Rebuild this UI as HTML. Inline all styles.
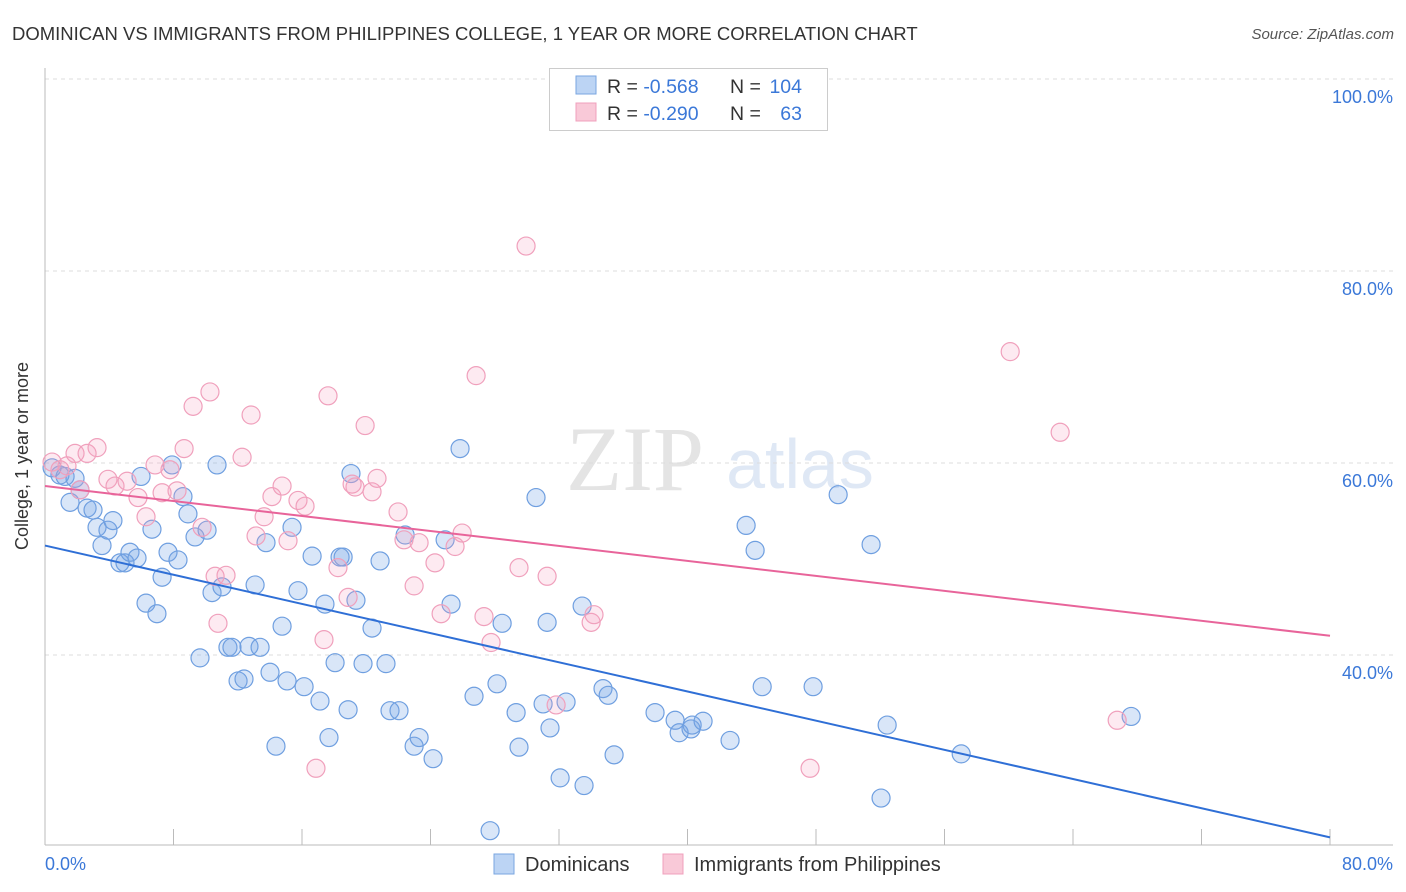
<!DOCTYPE html>
<html><head><meta charset="utf-8"><style>
body{margin:0;background:#fff;font-family:"Liberation Sans",sans-serif;}
svg{display:block}
</style></head><body>
<svg id="chart" width="1406" height="892" xmlns="http://www.w3.org/2000/svg">
<text x="12" y="40" font-size="18.5" fill="#333">DOMINICAN VS IMMIGRANTS FROM PHILIPPINES COLLEGE, 1 YEAR OR MORE CORRELATION CHART</text>
<text x="1394" y="39" font-size="15" fill="#555" font-style="italic" text-anchor="end">Source: ZipAtlas.com</text>
<g>
<text x="635" y="490" font-size="92" fill="#e4e4e4" font-family="Liberation Serif,serif" text-anchor="middle">ZIP</text>
<text x="800" y="488" font-size="70" fill="#dfe8f5" text-anchor="middle">atlas</text>
</g>
<g id="grid"></g>
<g id="axes"></g>
<g id="points"></g>
<g id="lines"></g>
<text x="28" y="456" font-size="18" fill="#333" text-anchor="middle" transform="rotate(-90 28 456)">College, 1 year or more</text>
<g>
<rect x="549.5" y="68.5" width="278" height="62" fill="#fff" stroke="#ccc"/>
<rect x="576" y="76" width="20" height="18" fill="#bcd4f4" stroke="#7aa6e0"/>
<rect x="576" y="103" width="20" height="18" fill="#f9c9d8" stroke="#f0a0bc"/>
<text x="607" y="93" font-size="19.5" fill="#333">R = <tspan fill="#3b78d8">-0.568</tspan></text>
<text x="730" y="93" font-size="19.5" fill="#333">N =</text>
<text x="802" y="93" font-size="19.5" fill="#3b78d8" text-anchor="end">104</text>
<text x="607" y="120" font-size="19.5" fill="#333">R = <tspan fill="#3b78d8">-0.290</tspan></text>
<text x="730" y="120" font-size="19.5" fill="#333">N =</text>
<text x="802" y="120" font-size="19.5" fill="#3b78d8" text-anchor="end">63</text>
</g>
<g>
<rect x="494" y="854" width="20" height="20" fill="#bcd4f4" stroke="#7aa6e0"/>
<text x="525" y="871" font-size="20" fill="#333">Dominicans</text>
<rect x="663" y="854" width="20" height="20" fill="#f9c9d8" stroke="#f0a0bc"/>
<text x="694" y="871" font-size="20" fill="#333">Immigrants from Philippines</text>
</g>
</svg>
<script>
const blueX=[0.44,0.93,1.25,1.87,1.56,2.18,2.62,2.99,3.55,3.24,3.92,4.23,4.67,4.98,5.29,5.73,5.98,6.29,6.66,6.97,7.29,7.66,7.91,8.28,8.59,8.90,9.34,9.65,10.09,10.40,10.71,11.02,11.39,11.64,12.02,12.39,12.70,13.08,13.39,13.76,14.01,14.38,14.76,15.07,15.38,15.75,16.13,16.63,17.12,17.43,17.68,18.06,18.37,18.56,18.87,19.05,19.36,19.80,20.36,20.86,21.23,21.48,22.04,22.42,22.98,23.29,24.16,24.91,25.28,25.84,26.71,27.71,28.14,28.46,29.33,29.51,30.57,31.01,31.26,31.44,32.07,32.44,33.44,33.56,34.74,35.06,35.43,37.98,39.23,39.48,40.22,40.29,40.97,42.65,43.65,44.21,44.65,47.82,49.38,51.43,52.05,52.43,57.04,67.62];
const blueY=[59.5,58.75,58.6,58.4,55.9,57.2,55.3,55.1,51.4,53.3,53.0,54.0,49.6,49.6,50.7,50.1,58.6,45.4,53.1,44.3,48.1,50.7,59.8,49.9,56.5,54.7,52.3,39.7,53.0,46.5,59.8,47.1,40.8,40.8,37.3,37.5,40.9,47.3,40.8,51.7,38.2,30.5,43.0,37.3,53.3,46.7,36.7,50.3,35.2,45.3,31.4,39.2,50.2,50.2,34.3,58.9,45.7,39.1,42.8,49.8,39.1,34.2,34.2,52.5,30.5,31.4,29.2,52.0,45.3,61.5,35.7,21.7,37.0,43.3,34.0,30.4,56.4,34.9,43.4,32.4,27.2,35.1,45.1,26.4,36.5,35.8,29.6,34.0,33.2,31.9,32.3,32.7,33.1,31.1,53.5,50.9,36.7,36.7,56.7,51.5,25.1,32.7,29.7,33.6];
const pinkX=[0.44,0.93,1.37,1.87,2.18,2.62,3.24,3.92,4.36,5.11,5.79,6.29,6.85,7.78,7.29,8.22,8.66,9.22,9.78,10.27,10.59,10.77,11.27,12.27,12.83,13.14,13.64,14.13,14.76,15.13,15.75,16.19,16.87,17.37,17.62,18.24,18.87,19.12,19.30,19.93,20.36,20.67,21.98,22.35,22.98,23.29,24.28,24.66,25.53,25.97,26.84,27.33,27.77,29.51,29.95,31.26,31.82,34.00,34.18,47.63,60.09,63.20,66.75];
const pinkY=[60.1,59.3,59.7,61.0,57.2,61.0,61.6,58.3,57.6,58.1,56.4,54.4,59.8,59.3,56.9,57.1,61.5,65.9,53.3,67.4,48.2,43.3,48.3,60.6,65.0,52.4,54.4,56.5,57.6,51.9,56.1,55.5,28.2,41.6,67.0,49.1,46.0,57.8,57.5,63.9,57.0,58.4,54.9,52.0,47.2,51.7,49.6,44.3,51.3,52.7,69.1,44.0,41.3,49.1,82.6,48.2,34.8,43.4,44.2,28.2,71.6,63.2,33.2];
const blueLine=[51.4,21.0];
const pinkLine=[57.6,42.0];
const yTicks=[40,60,80,100];
const yTickLabels=["40.0%","60.0%","80.0%","100.0%"];
const xTicks=[0,8,16,24,32,40,48,56,64,72,80];

const NS="http://www.w3.org/2000/svg";
const sx=v=>45+v*1285/80;
const sy=v=>1039-v*9.6;
function mk(tag,attrs,parent){const e=document.createElementNS(NS,tag);for(const k in attrs)e.setAttribute(k,attrs[k]);document.getElementById(parent).appendChild(e);return e;}

yTicks.forEach((t,i)=>{
  const l=mk('line',{x1:45,x2:1393,y1:sy(t),y2:sy(t),stroke:'#ddd','stroke-dasharray':'4,4'},'grid');
  
  
  const tx=mk('text',{x:1393,y:sy(t)+24,'font-size':18,fill:'#3b78d8','text-anchor':'end'},'axes');
  tx.textContent=yTickLabels[i];
  
  
});
const ax=mk('line',{x1:45,x2:45,y1:68,y2:845,stroke:'#bbb'},'axes');


const bx=mk('line',{x1:45,x2:1393,y1:845,y2:845,stroke:'#bbb'},'axes');


xTicks.forEach(t=>{
  const l=mk('line',{x1:sx(t),x2:sx(t),y1:829,y2:845,stroke:'#bbb'},'axes');
  
  
});
const xl0=mk('text',{x:45,y:870,'font-size':18,fill:'#3b78d8'},'axes');xl0.textContent='0.0%';


const xl1=mk('text',{x:1393,y:870,'font-size':18,fill:'#3b78d8','text-anchor':'end'},'axes');xl1.textContent='80.0%';



blueX.forEach((x,i)=>{
  const c=mk('circle',{cx:sx(x),cy:sy(blueY[i]),r:9,fill:'rgba(120,165,230,0.28)',stroke:'#6f9fe0','stroke-width':1.2},'points');
  
  
});
pinkX.forEach((x,i)=>{
  const c=mk('circle',{cx:sx(x),cy:sy(pinkY[i]),r:9,fill:'rgba(245,160,190,0.22)',stroke:'#f0a0bc','stroke-width':1.2},'points');
  
  
});
const bl=mk('line',{x1:sx(0),y1:sy(blueLine[0]),x2:sx(80),y2:sy(blueLine[1]),stroke:'#2f6fd6','stroke-width':2},'lines');


const pl=mk('line',{x1:sx(0),y1:sy(pinkLine[0]),x2:sx(80),y2:sy(pinkLine[1]),stroke:'#e8649a','stroke-width':2},'lines');


</script>
</body></html>
